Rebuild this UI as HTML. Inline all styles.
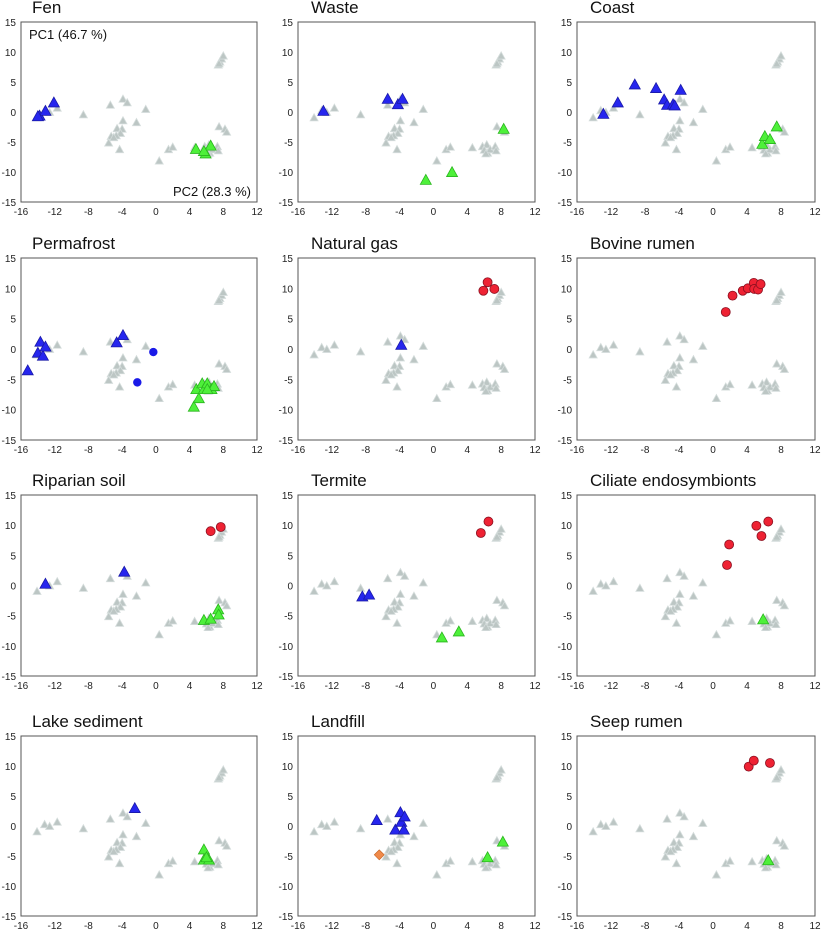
<!DOCTYPE html>
<html><head><meta charset="utf-8"><style>
html,body{margin:0;padding:0;background:#fff;}
svg{display:block;font-family:"Liberation Sans",Arial,sans-serif;}
</style></head><body>
<svg id="chart" width="821" height="934" viewBox="0 0 821 934"></svg>
<script>
const NS="http://www.w3.org/2000/svg";
const xTicks=[-16,-12,-8,-4,0,4,8,12];
const yTicks=[15,10,5,0,-5,-10,-15];
const panelTitles=["Fen","Waste","Coast","Permafrost","Natural gas","Bovine rumen","Riparian soil","Termite","Ciliate endosymbionts","Lake sediment","Landfill","Seep rumen"];
const grayX=[-14.1,-13.2,-12.6,-11.7,-8.6,-5.4,-3.9,-3.4,-1.2,-2.3,-3.9,-4.6,-4.0,-4.2,-4.7,-5.3,-5.0,-5.6,-4.3,0.4,1.5,2.0,4.6,5.8,6.3,6.0,6.4,6.7,6.2,7.3,7.4,7.5,8.2,8.4,7.4,7.6,7.8,8.0,7.5];
const grayY=[-1.0,0.2,-0.1,0.6,-0.5,1.1,2.1,1.5,0.4,-1.8,-1.5,-2.8,-2.9,-3.6,-4.0,-4.1,-4.3,-5.2,-6.3,-8.2,-6.3,-5.9,-6.0,-5.8,-5.5,-6.4,-6.9,-6.3,-7.0,-5.8,-6.5,-2.5,-2.9,-3.4,7.8,8.3,8.8,9.3,8.0];
const blueTri=[
 [[-13.8,-0.7],[-13.1,0.1],[-12.1,1.5],[-14.0,-0.8]],
 [[-13.0,0.1],[-5.4,2.1],[-4.2,1.2],[-3.65,2.1]],
 [[-12.9,-0.4],[-11.2,1.5],[-9.2,4.5],[-6.7,3.9],[-5.75,2.0],[-5.4,1.1],[-4.7,1.2],[-4.5,1.0],[-3.8,3.6]],
 [[-15.2,-3.6],[-14.0,-0.7],[-13.7,1.1],[-13.4,-1.2],[-13.1,0.3],[-4.65,1.0],[-3.9,2.2]],
 [[-3.8,0.6]],
 [],
 [[-13.1,0.2],[-3.75,2.2]],
 [[-8.4,-1.9],[-7.6,-1.6]],
 [],
 [[-2.5,2.9]],
 [[-6.7,0.9],[-4.5,-0.7],[-3.9,2.2],[-3.8,0.6],[-3.5,-0.7],[-3.4,1.5]],
 []
];
const greenTri=[
 [[4.75,-6.25],[5.9,-7.0],[6.5,-5.7],[5.7,-6.6]],
 [[-0.9,-11.4],[2.2,-10.1],[8.3,-2.9]],
 [[5.8,-5.4],[6.1,-4.1],[6.7,-4.6],[7.5,-2.5]],
 [[4.5,-9.6],[5.1,-8.2],[4.8,-6.7],[5.5,-5.75],[5.7,-6.7],[6.1,-5.75],[6.6,-6.7],[6.9,-6.2],[6.1,-6.7]],
 [],[],
 [[5.7,-5.8],[6.5,-5.6],[7.4,-4.05],[7.45,-4.9]],
 [[1.0,-8.7],[3.0,-7.7]],
 [[5.9,-5.7]],
 [[5.7,-4.0],[5.7,-5.7],[6.3,-5.7],[6.0,-5.3]],
 [[6.4,-5.3],[8.2,-2.7]],
 [[6.5,-5.8]]
];
const redDot=[
 [],[],[],[],
 [[5.9,9.6],[6.4,11.0],[7.2,9.9]],
 [[1.5,6.1],[2.3,8.8],[3.5,9.6],[4.1,10.0],[4.8,10.9],[4.85,9.9],[5.3,9.8],[5.6,10.7]],
 [[6.5,9.0],[7.7,9.7]],
 [[5.6,8.7],[6.5,10.6]],
 [[1.65,3.4],[1.9,6.8],[5.1,9.9],[5.7,8.2],[6.5,10.6]],
 [],[],
 [[4.2,9.9],[4.8,10.9],[6.7,10.5]]
];
const blueDot=[[],[],[],[[-0.3,-0.5],[-2.2,-5.5]],[],[],[],[],[],[],[],[]];
const orangeDia=[[],[],[],[],[],[],[],[],[],[],[[-6.4,-4.8]],[]];

const colL=[21,298,577], colR=[257,535,815], titleX=[32,311,590];
const rowT=[22,258,495,736], rowB=[202,440,676,916];
const svg=document.getElementById('chart');
function mk(tag,attrs,parent){const e=document.createElementNS(NS,tag);for(const k in attrs)e.setAttribute(k,attrs[k]);(parent||svg).appendChild(e);return e;}
function tri(g,cx,cy,s,fill,stroke){const h=s*0.9;return mk('polygon',{points:`${cx},${cy-h*0.6} ${cx-s/2},${cy+h*0.4} ${cx+s/2},${cy+h*0.4}`,fill:fill,stroke:stroke,'stroke-width':0.8},g);}

panelTitles.forEach((title,i)=>{
 const c=i%3,r=Math.floor(i/3);
 const L=colL[c],R=colR[c],T=rowT[r],B=rowB[r];
 const sx=v=>L+(v+16)/28*(R-L);
 const sy=v=>T+(15-v)/30*(B-T);
 const g=mk('g',{});
 
 
 const t=mk('text',{x:titleX[c],y:T-9,'font-size':17,fill:'#111'},g);t.textContent=title;
 
 
 const fr=mk('rect',{x:L,y:T,width:R-L,height:B-T,fill:'none',stroke:'#555','stroke-width':1},g);
 
 
 xTicks.forEach(v=>{const tx=mk('text',{x:sx(v),y:B+13,'font-size':10,'text-anchor':'middle',fill:'#222'},g);tx.textContent=v;
  
  });
 yTicks.forEach(v=>{const ty=mk('text',{x:L-5,y:sy(v)+4,'font-size':10,'text-anchor':'end',fill:'#222'},g);ty.textContent=v;
  
  });
 grayX.forEach((x,k)=>{const p=tri(g,sx(x),sy(grayY[k]),8,'#bcc6c4','#d4dcdb');
  
  });
 greenTri[i].forEach(d=>{const p=tri(g,sx(d[0]),sy(d[1]),11,'#4ef03a','#2ab51e');
  
  });
 blueTri[i].forEach(d=>{const p=tri(g,sx(d[0]),sy(d[1]),11,'#2626ee','#1a1aa8');
  
  });
 blueDot[i].forEach(d=>{const p=mk('circle',{cx:sx(d[0]),cy:sy(d[1]),r:4.2,fill:'#1a1ae8'},g);
  
  });
 redDot[i].forEach(d=>{const p=mk('circle',{cx:sx(d[0]),cy:sy(d[1]),r:4.5,fill:'#ee2233',stroke:'#8a1020','stroke-width':0.8},g);
  
  });
 orangeDia[i].forEach(d=>{const cx=sx(d[0]),cy=sy(d[1]);const p=mk('polygon',{points:`${cx},${cy-5} ${cx+5},${cy} ${cx},${cy+5} ${cx-5},${cy}`,fill:'#f08a4a',stroke:'#c06020','stroke-width':0.6},g);
  
  });
 if(i===0){
  const a=mk('text',{x:L+8,y:T+17,'font-size':13,fill:'#111'},g);a.textContent='PC1 (46.7 %)';
  
  
  const b=mk('text',{x:R-6,y:B-6,'font-size':13,'text-anchor':'end',fill:'#111'},g);b.textContent='PC2 (28.3 %)';
  
  
 }
});
</script>
</body></html>
